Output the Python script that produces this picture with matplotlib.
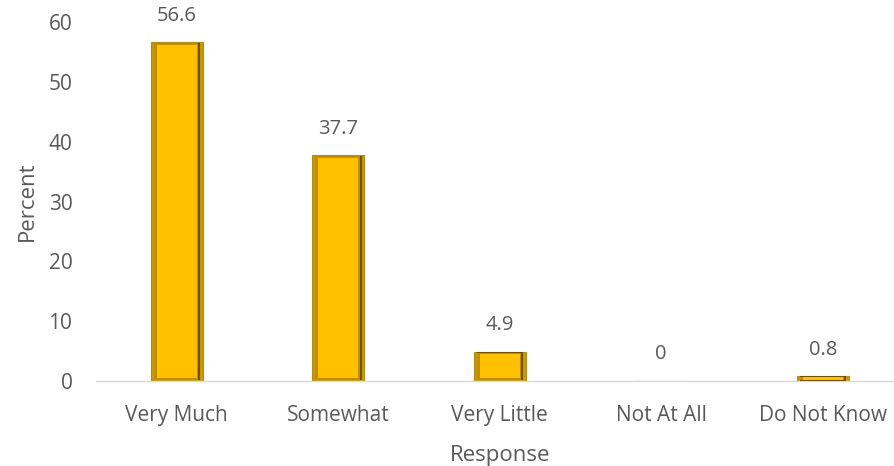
import matplotlib.pyplot as plt
from matplotlib.patches import Rectangle

categories = ["Very Much", "Somewhat", "Very Little", "Not At All", "Do Not Know"]
values = [56.6, 37.7, 4.9, 0, 0.8]
value_labels = ["56.6", "37.7", "4.9", "0", "0.8"]
yticks = [0, 10, 20, 30, 40, 50, 60]

plt.rcParams["font.family"] = ["Open Sans", "DejaVu Sans"]
text_color = "#595959"

fig = plt.figure(figsize=(8.94, 4.66), dpi=100)
ax = fig.add_axes([96 / 894, 85 / 466, 807.5 / 894, 359 / 466])

x = list(range(len(categories)))
w = 0.32
# outer rim
ax.bar(x, values, width=w, color="#C99A00", edgecolor="#B08A20", linewidth=0.8, zorder=2)
# bevel layers: dark bottom/right shadow, then bright face
for xi, v in zip(x, values):
    if v <= 0:
        continue
    ix = 0.035
    iy = min(0.45, v * 0.2)
    ax.add_patch(Rectangle((xi - w / 2 + ix * 0.5, iy * 0.3), w - ix * 0.9, v - iy * 0.55,
                           facecolor="#6E5000", edgecolor="none", zorder=3))
    ax.add_patch(Rectangle((xi - w / 2 + ix * 0.5, iy * 0.55), w - ix * 1.3, v - iy * 0.9,
                           facecolor="#C08E00", edgecolor="none", zorder=3))
    ax.add_patch(Rectangle((xi - w / 2 + ix, iy), w - ix * 2, v - iy * 2,
                           facecolor="#FFC000", edgecolor="none", zorder=4))

for xi, v, lab in zip(x, values, value_labels):
    ax.annotate(lab, (xi, v), xytext=(0, 12), textcoords="offset points",
                ha="center", va="bottom", fontsize=14.5, color=text_color)

ax.set_xlim(-0.5, len(categories) - 0.5)
ax.set_ylim(0, 60)
ax.set_yticks(yticks)
ax.set_xticks(x)
ax.set_xticklabels(categories)
ax.tick_params(axis="both", length=0, labelsize=15, colors=text_color)
ax.tick_params(axis="y", pad=17)
ax.tick_params(axis="x", pad=17)

for s in ["top", "right", "left"]:
    ax.spines[s].set_visible(False)
ax.spines["bottom"].set_color("#D9D9D9")
ax.spines["bottom"].set_linewidth(1)

ax.set_ylabel("Percent", fontsize=16, color=text_color, labelpad=8)
ax.set_xlabel("Response", fontsize=16, color=text_color, labelpad=14)

fig.savefig("out.png", dpi=100)
